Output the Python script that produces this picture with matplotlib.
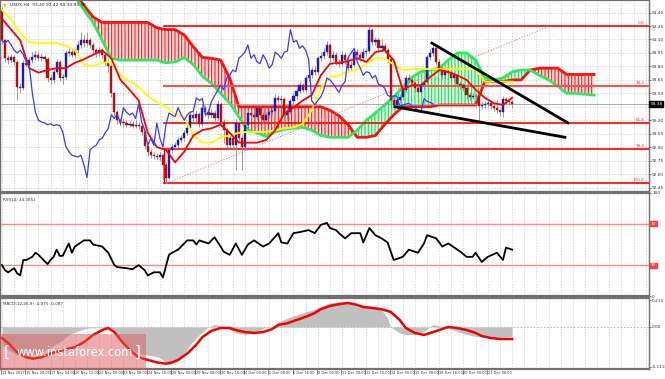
import matplotlib
matplotlib.use('Agg')
import matplotlib.pyplot as plt
import numpy as np
from matplotlib.patches import Rectangle

# ---------------- data ----------------
first_open = 94.43
closes = [
    94.09, 93.89, 93.87, 93.90, 93.85, 93.57, 93.56, 93.84, 93.82, 93.87,
    93.90, 93.93, 93.89, 93.90, 93.88, 93.67, 93.65, 93.74, 93.85, 93.67,
    93.68, 93.95, 93.96, 93.93, 93.98, 94.04, 94.09, 94.06, 94.09, 94.04,
    93.98, 93.95, 93.98, 93.93, 93.85, 93.80, 93.50, 93.29, 93.20, 93.18,
    93.17, 93.15, 93.16, 93.14, 93.15, 93.14, 93.07, 92.91, 92.85, 92.81,
    92.80, 92.79, 92.81, 92.70, 92.56, 92.87, 92.90, 92.92, 92.98, 93.00,
    93.06, 93.11, 93.26, 93.22, 93.27, 93.16, 93.34, 93.29, 93.26, 93.28,
    93.22, 93.38, 93.18, 93.09, 92.92, 93.00, 92.92, 93.17, 93.00, 92.90,
    93.15, 93.28, 93.26, 93.24, 93.34, 93.26, 93.20, 93.26, 93.29, 93.30,
    93.45, 93.42, 93.44, 93.26, 93.29, 93.41, 93.47, 93.53, 93.59, 93.54,
    93.67, 93.70, 93.76, 93.74, 93.89, 93.92, 93.96, 94.04, 93.89, 93.93,
    93.85, 93.83, 93.93, 93.87, 93.78, 93.82, 93.96, 93.93, 93.89, 93.96,
    93.97, 94.21, 94.07, 94.09, 94.00, 94.03, 93.98, 93.88, 93.42, 93.37,
    93.42, 93.46, 93.54, 93.67, 93.65, 93.61, 93.56, 93.51, 93.59, 93.63,
    93.90, 93.95, 94.00, 93.85, 93.78, 93.70, 93.74, 93.73, 93.67, 93.70,
    93.60, 93.59, 93.56, 93.48, 93.46, 93.47, 93.47, 93.36, 93.37, 93.38,
    93.39, 93.36, 93.34, 93.31, 93.29, 93.44, 93.41, 93.40, 93.38]
highs = [
    94.46, 94.10, 93.93, 93.94, 93.93, 93.87, 93.61, 93.87, 93.88, 93.91,
    93.96, 93.97, 93.96, 93.94, 93.93, 93.90, 93.70, 93.77, 93.88, 93.87,
    93.72, 93.98, 94.00, 93.99, 94.01, 94.08, 94.18, 94.15, 94.18, 94.12,
    94.07, 94.01, 94.02, 94.01, 93.96, 93.88, 93.82, 93.52, 93.31, 93.23,
    93.22, 93.20, 93.19, 93.19, 93.20, 93.18, 93.17, 93.09, 92.94, 92.88,
    92.85, 92.83, 92.85, 92.83, 92.73, 92.90, 92.93, 92.96, 93.01, 93.04,
    93.09, 93.15, 93.29, 93.30, 93.31, 93.29, 93.38, 93.37, 93.32, 93.32,
    93.31, 93.42, 93.40, 93.21, 93.11, 93.04, 93.03, 93.21, 93.19, 93.03,
    93.18, 93.32, 93.31, 93.29, 93.37, 93.36, 93.29, 93.29, 93.33, 93.34,
    93.49, 93.48, 93.48, 93.46, 93.33, 93.44, 93.50, 93.56, 93.63, 93.62,
    93.70, 93.74, 93.79, 93.80, 93.92, 93.96, 94.00, 94.08, 94.06, 93.97,
    93.96, 93.88, 93.97, 93.96, 93.90, 93.86, 94.00, 93.99, 93.96, 94.00,
    94.01, 94.25, 94.23, 94.13, 94.12, 94.10, 94.06, 94.01, 93.90, 93.45,
    93.45, 93.49, 93.57, 93.70, 93.71, 93.68, 93.64, 93.59, 93.62, 93.66,
    93.93, 93.99, 94.06, 94.02, 93.88, 93.81, 93.78, 93.77, 93.77, 93.74,
    93.72, 93.64, 93.62, 93.58, 93.51, 93.50, 93.50, 93.49, 93.40, 93.41,
    93.42, 93.42, 93.39, 93.42, 93.33, 93.47, 93.46, 93.43, 93.42]
lows = [
    94.05, 93.85, 93.83, 93.84, 93.81, 93.42, 93.50, 93.54, 93.79, 93.79,
    93.84, 93.87, 93.86, 93.86, 93.85, 93.63, 93.60, 93.62, 93.71, 93.64,
    93.60, 93.66, 93.92, 93.90, 93.90, 93.95, 94.01, 94.02, 94.03, 94.00,
    93.95, 93.91, 93.92, 93.89, 93.82, 93.74, 93.46, 93.25, 93.16, 93.14,
    93.13, 93.12, 93.12, 93.11, 93.11, 93.10, 93.04, 92.88, 92.80, 92.78,
    92.77, 92.76, 92.75, 92.53, 92.50, 92.54, 92.84, 92.87, 92.89, 92.95,
    92.97, 93.03, 93.08, 93.19, 93.18, 93.12, 93.13, 93.25, 93.22, 93.23,
    93.19, 93.20, 93.15, 92.95, 92.88, 92.89, 92.88, 92.64, 92.96, 92.64,
    92.87, 93.12, 93.22, 93.20, 93.21, 93.23, 93.16, 93.17, 93.23, 93.26,
    93.27, 93.39, 93.38, 93.22, 93.20, 93.27, 93.38, 93.44, 93.50, 93.51,
    93.51, 93.64, 93.67, 93.70, 93.71, 93.86, 93.88, 93.93, 93.85, 93.86,
    93.82, 93.79, 93.80, 93.83, 93.74, 93.75, 93.79, 93.90, 93.86, 93.85,
    93.92, 93.95, 94.04, 94.04, 93.97, 93.96, 93.95, 93.85, 93.35, 93.33,
    93.34, 93.39, 93.43, 93.51, 93.61, 93.58, 93.52, 93.47, 93.48, 93.55,
    93.60, 93.87, 93.92, 93.82, 93.74, 93.66, 93.66, 93.69, 93.64, 93.63,
    93.57, 93.55, 93.53, 93.44, 93.43, 93.44, 93.44, 93.17, 93.33, 93.34,
    93.35, 93.33, 93.30, 93.28, 93.25, 93.24, 93.38, 93.37, 93.34]

# Ichimoku lines, one value every 3 bars
ichi_step = 3
tenkan = [94.33, 94.21, 94.09, 93.78, 93.73, 93.76, 93.78, 93.78, 93.84, 93.88,
          93.93, 93.98, 93.89, 93.65, 93.54, 93.42, 93.06, 92.90, 92.87, 92.73,
          92.85, 93.03, 93.09, 93.11, 93.15, 93.06, 92.95, 92.95, 92.95, 92.98,
          93.09, 93.28, 93.34, 93.42, 93.48, 93.70, 93.83, 93.84, 93.86, 93.89,
          93.85, 93.96, 93.98, 93.87, 93.54, 93.59, 93.59, 93.68, 93.76, 93.74,
          93.70, 93.65, 93.54, 93.45, 93.39, 93.37, 93.45]
kijun = [94.43, 94.32, 94.17, 94.07, 94.06, 94.06, 94.06, 94.03, 93.98, 93.82,
         93.80, 93.84, 93.85, 93.70, 93.63, 93.57, 93.47, 93.40, 93.35, 93.27,
         93.24, 93.03, 92.95, 92.95, 93.01, 93.03, 93.06, 93.07, 93.07, 93.07,
         93.09, 93.11, 93.12, 93.16, 93.31, 93.56, 93.68, 93.70, 93.74, 93.77,
         93.83, 93.89, 93.89, 93.82, 93.76, 93.77, 93.77, 93.77, 93.77, 93.77,
         93.77, 93.77, 93.77, 93.63, 93.63, 93.63, 93.63]
senkou_a = [94.70, 94.70, 94.70, 94.70, 94.70, 94.70, 94.70, 94.70, 94.58, 94.43,
            94.29, 94.09, 93.89, 93.87, 93.87, 93.87, 93.87, 93.87, 93.84, 93.85,
            93.90, 93.82, 93.69, 93.61, 93.50, 93.39, 93.24, 93.09, 93.06, 93.02,
            93.07, 93.10, 93.11, 93.12, 93.09, 93.03, 93.01, 93.01, 93.01, 93.09,
            93.20, 93.28, 93.37, 93.46, 93.57, 93.68, 93.74, 93.76, 93.78, 93.87,
            93.95, 93.95, 93.87, 93.67, 93.65, 93.67, 93.74, 93.76, 93.76, 93.70,
            93.65, 93.58, 93.50, 93.50, 93.49, 93.48]
senkou_b = [94.75, 94.75, 94.75, 94.75, 94.75, 94.75, 94.75, 94.75, 94.62, 94.48,
            94.35, 94.29, 94.29, 94.29, 94.29, 94.29, 94.29, 94.23, 94.21, 94.21,
            94.15, 94.02, 93.90, 93.89, 93.87, 93.67, 93.35, 93.35, 93.35, 93.35,
            93.35, 93.35, 93.35, 93.35, 93.35, 93.35, 93.31, 93.25, 93.15, 93.01,
            93.01, 93.03, 93.15, 93.26, 93.35, 93.35, 93.35, 93.35, 93.37, 93.37,
            93.37, 93.37, 93.37, 93.63, 93.63, 93.63, 93.65, 93.65, 93.76, 93.78,
            93.78, 93.78, 93.71, 93.71, 93.71, 93.71]
chikou_shift = 26

rsi_bars = [0, 1, 2, 4, 5, 6, 7, 8, 10, 11, 12, 15, 16, 17, 18, 19, 20, 22, 23, 24,
            27, 29, 30, 33, 34, 35, 37, 38, 41, 43, 45, 47, 48, 50, 52, 53, 55, 56,
            58, 61, 63, 64, 65, 68, 70, 72, 73, 75, 77, 79, 81, 83, 86, 88, 91, 92,
            94, 96, 98, 101, 103, 105, 107, 108, 110, 111, 113, 115, 118, 119, 121,
            123, 125, 127, 129, 132, 134, 137, 139, 140, 143, 145, 147, 151, 153,
            155, 156, 158, 160, 163, 165, 166, 168]
rsi_vals = [30, 25, 23, 27, 22, 20, 35, 35, 38, 42, 40, 31, 35, 38, 45, 39, 39, 51, 42, 48,
            54, 54, 50, 48, 45, 42, 30, 28, 27, 26, 30, 25, 20, 23, 23, 18, 40, 42,
            45, 54, 54, 50, 54, 51, 57, 48, 43, 40, 51, 40, 50, 54, 48, 51, 61, 52,
            51, 61, 62, 64, 61, 69, 71, 66, 64, 61, 56, 61, 61, 52, 66,
            59, 56, 52, 35, 38, 45, 42, 51, 59, 56, 48, 51, 43, 38,
            38, 42, 33, 38, 42, 35, 47, 45]
rsi_levels = [70, 30]

hist_bars = [0, 2, 5, 8, 10, 13, 16, 19, 22, 24, 27, 29, 33, 36, 38, 41, 44, 47, 50, 52,
             55, 59, 62, 65, 68, 70, 72, 75, 77, 80, 83, 86, 89, 91, 94, 97, 100, 103,
             105, 108, 111, 114, 117, 119, 122, 125, 127, 128, 131, 133, 136, 139, 142,
             145, 147, 150, 153, 156, 158, 161, 164, 167, 168]
hist_vals = [-0.14, -0.18, -0.22, -0.24, -0.22, -0.20, -0.16, -0.12, -0.063, -0.04,
             -0.016, -0.008, -0.005, -0.01, -0.063, -0.14, -0.20, -0.22, -0.23, -0.24,
             -0.30, -0.25, -0.14, -0.06, 0.0, 0.02, 0.01, -0.02, -0.047, -0.06,
             -0.04, -0.01, 0.0, 0.04, 0.07, 0.095, 0.12, 0.14, 0.166, 0.19,
             0.20, 0.19, 0.166, 0.16, 0.16, 0.135, 0.07, 0.0, -0.047, -0.06,
             -0.06, -0.035, 0.02, 0.005, -0.01, -0.035, -0.06, -0.074, -0.08, -0.087,
             -0.08, -0.075, -0.075]
sig_bars = [0, 2, 5, 8, 10, 13, 16, 19, 22, 24, 27, 30, 33, 35, 37, 40, 43, 45, 48, 51,
            54, 56, 58, 61, 64, 66, 69, 72, 75, 77, 80, 83, 86, 89, 91, 94, 97, 100,
            103, 105, 108, 111, 114, 117, 119, 122, 125, 128, 131, 133, 136, 139, 142,
            145, 147, 150, 153, 156, 158, 161, 164, 167, 168]
sig_vals = [-0.087, -0.126, -0.20, -0.24, -0.25, -0.24, -0.21, -0.19, -0.17, -0.16,
            -0.12, -0.063, -0.024, -0.008, -0.04, -0.13, -0.20, -0.24, -0.26, -0.28,
            -0.29, -0.28, -0.26, -0.21, -0.14, -0.08, -0.03, -0.008, -0.008, -0.024,
            -0.04, -0.047, -0.04, -0.016, 0.016, 0.03, 0.055, 0.08, 0.11, 0.14,
            0.166, 0.18, 0.19, 0.174, 0.158, 0.15, 0.14, 0.12, 0.055, -0.008,
            -0.047, -0.063, -0.04, -0.016, 0.0, -0.008, -0.024, -0.047, -0.071, -0.087,
            -0.095, -0.095, -0.095]

fib_levels = [94.25, 93.58, 93.17, 92.875, 92.50]
fib_labels = ['0.0', '38.2', '61.8', '78.6', '100.0']
fib_start = 53.5
fib_diag_bars = [54.3, 180.5]
fib_diag_prices = [92.50, 94.25]
trend_up_bars = [141.6, 186.4]
trend_up_prices = [94.06, 93.17]
trend_lo_bars = [129.4, 185.4]
trend_lo_prices = [93.35, 93.01]

price_ticks = [94.40, 94.25, 94.10, 93.95, 93.80, 93.65, 93.50, 93.35, 93.20,
               93.05, 92.90, 92.75, 92.60, 92.45]
time_labels = ['14 Nov 2017', '15 Nov 20:00', '17 Nov 04:00', '20 Nov 12:00',
               '22 Nov 00:00', '23 Nov 08:00', '24 Nov 16:00', '28 Nov 00:00',
               '29 Nov 08:00', '30 Nov 16:00', '4 Dec 00:00', '5 Dec 08:00',
               '6 Dec 16:00', '8 Dec 00:00', '11 Dec 08:00', '12 Dec 16:00',
               '14 Dec 00:00', '15 Dec 08:00', '18 Dec 16:00', '20 Dec 00:00',
               '21 Dec 08:00']
label_every = 8
title_text = 'USDX,H4  93.40 93.42 93.34 93.38'
rsi_text = 'RSI(14) 44.3851'
macd_text = 'MACD(12,26,9) -0.075 -0.087'
last_price = 93.38

# ---------------- figure ----------------
W, H = 665, 379
fig = plt.figure(figsize=(W / 100, H / 100), dpi=100)
fig.patch.set_facecolor('white')
plt.rcParams['hatch.linewidth'] = 0.8

def frac(top, bottom):
    return 1 - bottom / H, (bottom - top) / H

pw = 649 / W
b, h = frac(0, 192)
ax = fig.add_axes([0, b, pw, h])
b, h = frac(193, 296)
ax_r = fig.add_axes([0, b, pw, h])
b, h = frac(298, 369)
ax_m = fig.add_axes([0, b, pw, h])

XL = (-0.66, 213.1)
grid_c = '#c8c8c8'
for a in (ax, ax_r, ax_m):
    a.set_xlim(*XL)
    a.set_facecolor('white')
    for s in a.spines.values():
        s.set_color('#707070')
        s.set_linewidth(1.0)
    a.spines['top'].set_linewidth(1.6)
    a.spines['bottom'].set_linewidth(1.6)
    a.yaxis.tick_right()
    a.tick_params(axis='y', labelsize=3.1, length=1.5, width=0.5, pad=0.8,
                  colors='#333333')
    a.tick_params(axis='x', length=0, labelbottom=False)
    for gx in range(0, 214, 4):
        a.axvline(gx, color=grid_c, lw=0.5, ls=(0, (2, 2)), zorder=0)

N = len(closes)
bars = np.arange(N)
c = np.array(closes)
o = np.array([first_open] + closes[:-1])
hi = np.array(highs)
lo = np.array(lows)

# ---------------- main panel ----------------
ax.set_ylim(92.40, 94.54)
ax.set_yticks(price_ticks)
ax.set_yticklabels(['%.2f' % p for p in price_ticks])
for p in price_ticks:
    ax.axhline(p, color=grid_c, lw=0.5, ls=(0, (2, 2)), zorder=0)

ks = np.arange(0, len(senkou_a) * ichi_step, ichi_step)
sa = np.array(senkou_a)
sb = np.array(senkou_b)
ax.fill_between(ks, sa, sb, where=sb >= sa, interpolate=True,
                facecolor='#ffe0e0', edgecolor='#ff1a1a', hatch='|||||', lw=0,
                zorder=1)
ax.fill_between(ks, sa, sb, where=sa > sb, interpolate=True,
                facecolor='#d8ffe4', edgecolor='#22dd55', hatch='|||||', lw=0,
                zorder=1)
ax.plot(ks, sb, color='#ff1010', lw=2.0, zorder=2, solid_joinstyle='miter')
ax.plot(ks, sa, color='#2ee860', lw=2.0, zorder=2, solid_joinstyle='miter')

# fibonacci
for lv, lb in zip(fib_levels, fib_labels):
    col = '#ff5050' if lb == '38.2' else '#ff0000'
    ax.plot([fib_start, XL[1]], [lv, lv], color=col,
            lw=1.5 if lb == '38.2' else 1.2, zorder=3)
    ax.text(XL[1] - 1.5, lv + 0.012, lb, fontsize=3.0, color='#ff3030',
            ha='right', va='bottom', zorder=6)
ax.plot([fib_start, fib_start], [fib_levels[3], fib_levels[4]], color='#ff0000',
        lw=1.0, zorder=3)
ax.plot(fib_diag_bars, fib_diag_prices, color='#ff8080', lw=0.8, ls=(0, (1, 1.5)),
        zorder=3)

# current price line
ax.axhline(last_price, color='#a0a0a0', lw=0.6, zorder=2)

# candles
ax.vlines(bars, lo, hi, color='#8a8a8a', lw=0.6, zorder=4)
up = c >= o
body_h = np.abs(c - o)
ax.bar(bars[up], body_h[up], bottom=o[up], width=0.7, color='#1c1cb0',
       edgecolor='#1c1cb0', lw=0.3, zorder=5)
ax.bar(bars[~up], body_h[~up], bottom=c[~up], width=0.7, color='#b01010',
       edgecolor='#b01010', lw=0.3, zorder=5)

# tenkan / kijun / chikou
kt = np.arange(0, len(tenkan) * ichi_step, ichi_step)
ax.plot(kt, kijun, color='#ffff00', lw=1.3, zorder=6)
ax.plot(kt, tenkan, color='#ff0000', lw=1.3, zorder=6)
ax.plot(bars[:N - chikou_shift], c[chikou_shift:], color='#3a3aff', lw=0.9, zorder=6)

# trend lines
ax.plot(trend_up_bars, trend_up_prices, color='black', lw=2.0, zorder=7)
ax.plot(trend_lo_bars, trend_lo_prices, color='black', lw=2.0, zorder=7)

# price box
ax.text(1.002, (last_price - 92.40) / (94.54 - 92.40), '%.2f' % last_price,
        transform=ax.transAxes, fontsize=3.1, color='white', va='center',
        ha='left', zorder=10, clip_on=False,
        bbox=dict(boxstyle='square,pad=0.2', fc='black', ec='black'))

fig.text(10 / W, 1 - 5 / H, title_text, fontsize=3.2, color='#222222', va='center')
fig.text(3 / W, 1 - 5 / H, u'\u25BC', fontsize=3.5, color='#e0c000', va='center')

# ---------------- RSI ----------------
ax_r.set_ylim(0, 100)
ax_r.set_yticks([100, 0])
ax_r.set_yticklabels(['100', '0'])
for lv in rsi_levels:
    ax_r.axhline(lv, color='#ff8a8a', lw=1.0, zorder=1)
    ax_r.text(1.003, lv, str(lv), transform=ax_r.get_yaxis_transform(),
              fontsize=2.8, color='white', va='center', ha='left', clip_on=False,
              bbox=dict(boxstyle='square,pad=0.15', fc='#ff4040', ec='#ff4040'))
ax_r.plot(rsi_bars, rsi_vals, color='black', lw=1.3, zorder=3)
ax_r.text(0.004, 0.95, rsi_text, transform=ax_r.transAxes, fontsize=3.0,
          color='#333333', va='top')

# ---------------- MACD ----------------
ax_m.set_ylim(-0.332, 0.229)
ax_m.set_yticks([0.213, 0.0, -0.316])
ax_m.set_yticklabels(['0.213', '0.00', '-0.113'])
ax_m.axhline(0, color='#b0b0b0', lw=0.6, ls=(0, (2, 2)), zorder=0)
ax_m.fill_between(hist_bars, 0, hist_vals, color='#c0c0c0', lw=0, zorder=1)
ax_m.plot(sig_bars, sig_vals, color='#ee0000', lw=1.8, zorder=3)
ax_m.text(0.004, 0.95, macd_text, transform=ax_m.transAxes, fontsize=3.0,
          color='#333333', va='top')

tick_pos = [i * label_every for i in range(len(time_labels))]
for tp, tl in zip(tick_pos, time_labels):
    ax_m.text(tp, -0.03, tl, transform=ax_m.get_xaxis_transform(), fontsize=2.5,
              color='#333333', ha='left', va='top', clip_on=False)
    ax_m.plot([tp - 0.3, tp - 0.3], [-0.0, -0.07], transform=ax_m.get_xaxis_transform(),
              color='#555555', lw=0.5, clip_on=False)

# watermark
fig.patches.append(Rectangle((0, 1 - 370 / H), 146 / W, 36 / H, transform=fig.transFigure,
                             facecolor='#e05a5a', alpha=0.5, edgecolor='none', zorder=20))
fig.text(4 / W, 1 - 352 / H, '[', fontsize=11, color='white', ha='left',
         va='center', zorder=21)
fig.text(141 / W, 1 - 352 / H, ']', fontsize=11, color='white', ha='right',
         va='center', zorder=21)
fig.text(75 / W, 1 - 352 / H, 'www.instaforex.com', fontsize=8.3, color='white',
         ha='center', va='center', zorder=21)

fig.savefig('out.png', dpi=100, facecolor='white')
